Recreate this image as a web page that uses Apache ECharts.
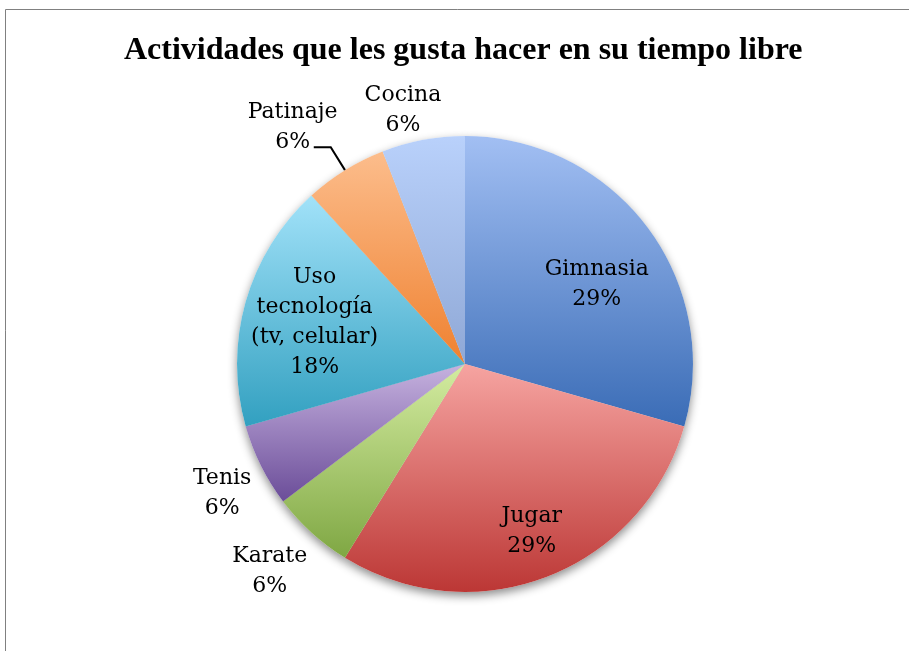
<!DOCTYPE html>
<html>
<head>
<meta charset="utf-8">
<script src="https://cdn.jsdelivr.net/npm/echarts@6/dist/echarts.min.js"></script>
<style>
  html, body { margin: 0; padding: 0; background: #fff; }
  #chart { width: 909px; height: 651px; }
</style>
</head>
<body>
<div id="chart"></div>
<script>
// datos del gráfico
const categories = ['Gimnasia', 'Jugar', 'Karate', 'Tenis', 'Uso\ntecnología\n(tv, celular)', 'Patinaje', 'Cocina']
const values = [5, 5, 1, 1, 3, 1, 1]
// etiquetas dentro del sector o fuera
const insideLabels = ['Gimnasia', 'Jugar', 'Uso\ntecnología\n(tv, celular)']

// colores (arriba -> abajo)
const topColors = ['#a2bff3', '#f6a4a1', '#d4eca1', '#c6b2df', '#a2e2f9', '#fcbd8c', '#b9d1fb']
const bottomColors = ['#3a6cb6', '#bc3735', '#7fa743', '#6b4d99', '#32a0c0', '#ef8130', '#8fa8d6']

// pequeños ajustes de etiquetas
const nudgeX = [2, 8, -8, 6, 6, -26, -11]
const nudgeY = [18, 16, 2, 5, 3, 0, 20]

const CENTER = [465, 364]
const R = 228

const chart = echarts.init(document.getElementById('chart'))

const labelStyle = {
  fontFamily: 'DejaVu Serif',
  fontSize: 22,
  lineHeight: 30,
  color: '#000'
}

const fmt = p => p.name + '\n' + Math.round(p.percent) + '%'

const mainData = categories.map((name, i) => ({
  name,
  value: values[i],
  itemStyle: {
    color: new echarts.graphic.LinearGradient(0, 0, 0, 1, [
      { offset: 0, color: topColors[i] },
      { offset: 1, color: bottomColors[i] }
    ])
  },
  // solo Patinaje lleva línea guía
  label: name === 'Patinaje'
    ? { show: true, position: 'outside', formatter: ' ', color: 'transparent', fontSize: 10 }
    : { show: false },
  labelLine: name === 'Patinaje'
    ? { show: true, length: 27, length2: 17, smooth: false, lineStyle: { color: '#000', width: 2 } }
    : { show: false }
}))

const labelData = (inside) => categories.map((name, i) => ({
  name,
  value: values[i],
  label: { show: insideLabels.includes(name) === inside }
}))

const overlay = {
  type: 'pie',
  center: CENTER,
  silent: true,
  startAngle: 90,
  clockwise: true,
  itemStyle: { color: 'transparent' },
  emphasis: { disabled: true },
  labelLine: { show: false },
  label: Object.assign({ position: 'inside', formatter: fmt }, labelStyle),
  labelLayout: p => ({ dx: nudgeX[p.dataIndex], dy: nudgeY[p.dataIndex] })
}

const option = {
  backgroundColor: '#fff',
  animation: false,
  title: {
    text: 'Actividades que les gusta hacer en su tiempo libre',
    left: 119,
    top: 30,
    textStyle: {
      fontFamily: 'Liberation Serif',
      fontWeight: 'bold',
      fontSize: 32,
      color: '#000'
    }
  },
  graphic: [
    {
      type: 'rect',
      shape: { x: 5.5, y: 9.5, width: 1000, height: 1000 },
      style: { fill: 'none', stroke: '#808080', lineWidth: 1 },
      silent: true,
      z: -10
    }
  ],
  series: [
    // sombra
    {
      type: 'pie',
      center: CENTER,
      radius: R,
      silent: true,
      startAngle: 90,
      clockwise: true,
      z: 1,
      label: { show: false },
      labelLine: { show: false },
      itemStyle: {
        color: '#fff',
        shadowBlur: 10,
        shadowOffsetY: 4,
        shadowColor: 'rgba(0,0,0,0.45)'
      },
      data: values.map((v, i) => ({ name: categories[i], value: v }))
    },
    {
      type: 'pie',
      center: CENTER,
      radius: R,
      startAngle: 90,
      clockwise: true,
      z: 2,
      avoidLabelOverlap: false,
      emphasis: { disabled: true },
      itemStyle: { borderWidth: 0 },
      data: mainData
    },
    Object.assign({}, overlay, { radius: [R * 0.4, R], z: 3, data: labelData(true) }),
    Object.assign({}, overlay, { radius: [250, 300], z: 3, data: labelData(false) })
  ]
}

chart.setOption(option)
</script>
</body>
</html>
